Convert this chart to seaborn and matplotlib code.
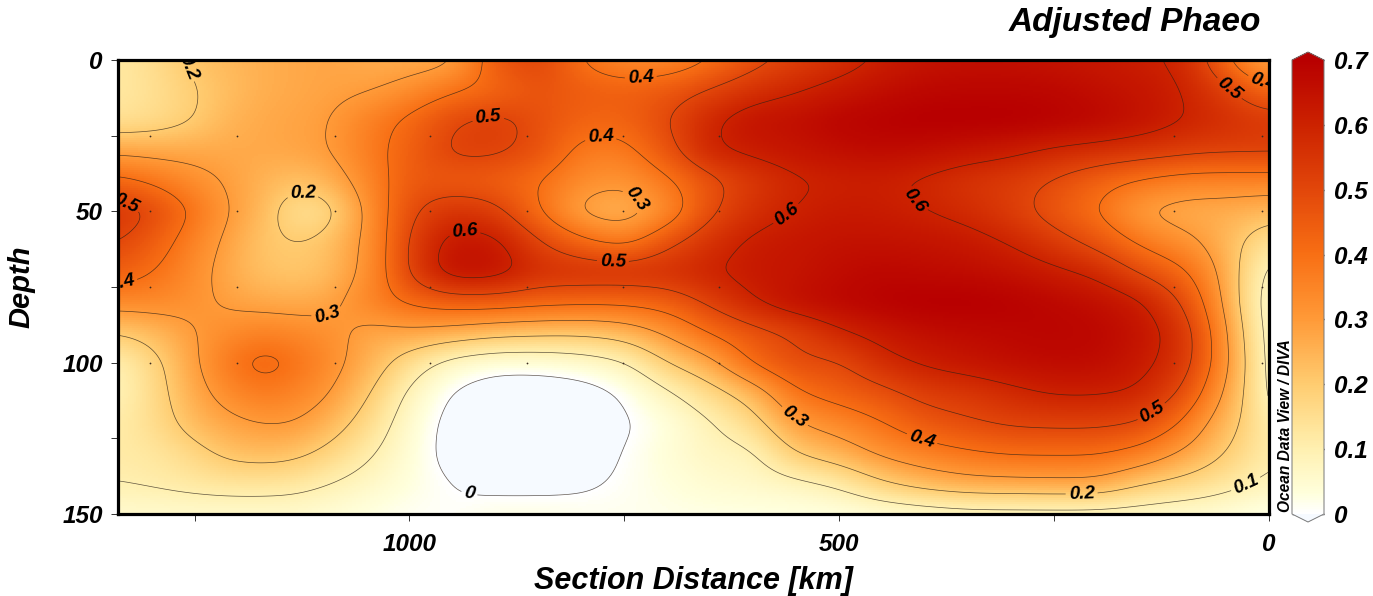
import numpy as np
import pandas as pd
import matplotlib
matplotlib.use("Agg")
import matplotlib.pyplot as plt
from matplotlib.colors import LinearSegmentedColormap
import seaborn as sns

# ---- data -----------------------------------------------------------------------
section_km = [1339,1293,1250,1210,1170,1135,1100,1040,1000,950,900,850,800,750,700,650,
              600,550,500,450,400,350,300,250,200,150,100,75,50,25,0]
depth_m = [0,10,20,30,40,50,60,70,80,90,100,110,120,130,140,150]
d000 = [.12,.16,.22,.24,.26,.27,.28,.26,.26,.27,.46,.52,.39,.33,.33,.39,.47,.52,.56,.61,.64,.65,.65,.64,.63,.61,.59,.50,.41,.31,.27]
d010 = [.12,.15,.195,.23,.26,.27,.28,.295,.33,.39,.42,.47,.45,.44,.46,.51,.56,.595,.63,.66,.68,.685,.685,.68,.66,.64,.605,.56,.53,.46,.42]
d020 = [.14,.16,.195,.25,.27,.28,.29,.37,.42,.50,.53,.48,.43,.43,.50,.59,.65,.66,.69,.70,.71,.71,.71,.70,.68,.65,.605,.585,.57,.55,.54]
d030 = [.28,.27,.27,.27,.27,.28,.29,.38,.44,.52,.52,.48,.37,.37,.47,.60,.62,.64,.66,.67,.66,.64,.62,.585,.57,.55,.53,.52,.52,.52,.52]
d040 = [.43,.38,.33,.29,.25,.22,.24,.36,.46,.45,.44,.40,.33,.31,.38,.47,.54,.59,.605,.61,.585,.55,.53,.49,.43,.385,.355,.35,.35,.35,.35]
d050 = [.56,.49,.39,.30,.24,.14,.14,.345,.49,.56,.53,.40,.27,.24,.33,.485,.565,.605,.625,.62,.60,.575,.53,.46,.395,.29,.26,.26,.26,.25,.24]
d060 = [.51,.44,.35,.28,.21,.20,.21,.335,.52,.64,.63,.51,.42,.36,.48,.56,.62,.635,.65,.65,.645,.63,.595,.535,.47,.38,.32,.295,.24,.19,.13]
d070 = [.45,.395,.33,.265,.22,.21,.22,.34,.52,.66,.65,.57,.57,.57,.57,.60,.63,.64,.665,.68,.67,.665,.65,.62,.585,.49,.42,.35,.27,.15,.06]
d080 = [.34,.34,.32,.285,.27,.265,.27,.36,.42,.45,.45,.43,.42,.42,.44,.52,.60,.66,.68,.70,.71,.71,.70,.68,.66,.62,.50,.40,.28,.14,.04]
d090 = [.20,.24,.30,.335,.36,.345,.33,.27,.28,.26,.23,.22,.215,.24,.315,.41,.47,.51,.59,.63,.66,.67,.68,.69,.68,.65,.56,.45,.31,.17,.04]
d100 = [.09,.18,.29,.385,.44,.40,.35,.24,.15,.06,.03,.03,.05,.085,.20,.27,.42,.49,.49,.575,.615,.64,.66,.67,.67,.63,.555,.45,.32,.19,.04]
d110 = [.08,.17,.27,.34,.38,.355,.32,.19,.08,-.01,-.05,-.05,-.04,.005,.085,.16,.24,.395,.44,.475,.53,.545,.58,.61,.61,.595,.495,.39,.28,.19,.05]
d120 = [.11,.16,.24,.28,.305,.305,.26,.145,.05,-.03,-.05,-.06,-.05,-.01,.03,.09,.16,.30,.34,.395,.46,.49,.515,.52,.52,.50,.395,.30,.24,.18,.09]
d130 = [.115,.13,.17,.225,.235,.225,.185,.10,.04,-.03,-.05,-.05,-.04,.005,.04,.075,.08,.205,.25,.32,.36,.39,.41,.41,.41,.37,.285,.245,.195,.155,.105]
d140 = [.10,.11,.125,.135,.135,.13,.105,.06,.03,.0,-.02,-.02,-.01,.01,.03,.05,.06,.075,.11,.19,.24,.27,.275,.28,.28,.205,.17,.15,.13,.105,.08]
d150 = [.05,.05,.05,.05,.05,.05,.04,.02,.01,.005,.03,.03,.02,.015,.02,.02,.02,.02,.02,.03,.04,.05,.05,.05,.05,.05,.04,.04,.03,.02,.01]
level_values = [0,.1,.2,.3,.4,.5,.6]
colorbar_ticks = [0,.1,.2,.3,.4,.5,.6,.7]
x_tick_km = [1000,500,0]
x_minor_km = [1250,750,250]
y_tick_m = [0,50,100,150]
y_minor_m = [25,75,125]
station_km = [1302,1200,1087,976,863,751,640,111,8]
station_depth = [25,50,75,100]
label_km = [1261,1328,1335,1124,1095,908,936,778,732,763,731,564,420,45,8,555,404,133,218,24,930]
label_depth = [2.6,45.6,73.3,45,85,20,56,22,45,64,5,50,48.5,9,8,119,125.5,118,143,142,142.7]
# ---------------------------------------------------------------------------------

sns.set_theme(style="white")
plt.rcParams.update({"font.family": ["Liberation Sans", "DejaVu Sans"],
                     "font.weight": "bold", "font.style": "italic",
                     "axes.labelweight": "bold"})

rows = [d000,d010,d020,d030,d040,d050,d060,d070,d080,d090,d100,d110,d120,d130,d140,d150]
field = np.array(rows, dtype=float)
km = np.array(section_km, dtype=float)
dep = np.array(depth_m, dtype=float)
XL = km[0]
NX, NY = 576, 227
fine_km = XL - (np.arange(NX) + .5) / NX * XL
fine_dep = (np.arange(NY) + .5) / NY * 150

tmp = np.array([np.interp(fine_km, km[::-1], r[::-1]) for r in field])
Z = np.array([np.interp(fine_dep, dep, c) for c in tmp.T]).T

def blur(a, sigma, axis):
    r = int(3 * sigma)
    k = np.exp(-.5 * (np.arange(-r, r + 1) / sigma) ** 2)
    k /= k.sum()
    pad = [(0, 0), (0, 0)]
    pad[axis] = (r, r)
    b = np.pad(a, pad, mode="edge")
    return np.apply_along_axis(lambda v: np.convolve(v, k, mode="valid"), axis, b)

Z = blur(blur(Z, 8, 1), 5, 0)

cmap = LinearSegmentedColormap.from_list("phaeo", [
    (0.0, "#ffffff"), (0.03/.7, "#ffffdc"), (0.1/.7, "#fff0b0"), (0.2/.7, "#ffcc70"),
    (0.3/.7, "#ff9a38"), (0.4/.7, "#f86f14"), (0.5/.7, "#e2470a"), (0.6/.7, "#cc2200"),
    (1.0, "#b80000")])
cmap.set_under("#f6faff")
cmap.set_over("#b80000")

W, H = 1373, 596
fig = plt.figure(figsize=(W / 100, H / 100), dpi=100)
ax = fig.add_axes([118 / W, 1 - 514 / H, (1269 - 118) / W, (514 - 60) / H])
cax = fig.add_axes([1292 / W, 1 - 522 / H, 32 / W, 470 / H])

df = pd.DataFrame(Z, index=fine_dep, columns=fine_km)
sns.heatmap(df, ax=ax, cmap=cmap, vmin=0, vmax=.7, cbar_ax=cax,
            xticklabels=False, yticklabels=False,
            cbar_kws={"extend": "both", "extendfrac": 8 / 454, "ticks": colorbar_ticks})

xc = lambda k: (XL - np.asarray(k, float)) / XL * NX
yc = lambda d: np.asarray(d, float) / 150 * NY
cx, cy = np.arange(NX) + .5, np.arange(NY) + .5

cs = ax.contour(cx, cy, Z, levels=level_values, colors="#2b2018", linewidths=.5, alpha=.75)
labs = ax.clabel(cs, levels=level_values, fmt=lambda v: f"{v:g}", fontsize=13.5, colors="black",
                 inline=True, inline_spacing=3,
                 manual=list(zip(xc(label_km), yc(label_depth))))
for t in cs.labelTexts:
    t.set_alpha(1); t.set_color("black")
    t.set_clip_on(True); t.set_clip_path(ax.patch); t.set_fontweight("bold"); t.set_fontstyle("italic")

sx, sy = np.meshgrid(xc(station_km), yc(station_depth))
ax.scatter(sx.ravel(), sy.ravel(), s=1.6, color="#3a2a20", linewidths=0, zorder=3)

for s in ax.spines.values():
    s.set_visible(True); s.set_linewidth(2.3); s.set_color("black")
ax.set_xticks(xc(x_tick_km)); ax.set_xticklabels([str(v) for v in x_tick_km], rotation=0)
ax.set_xticks(xc(x_minor_km), minor=True)
ax.set_yticks(yc(y_tick_m)); ax.set_yticklabels([str(v) for v in y_tick_m], rotation=0)
ax.set_yticks(yc(y_minor_m), minor=True)
ax.tick_params(axis="both", which="both", direction="out", length=5, width=.7, color="#333333",
               bottom=True, left=True, top=False, right=False)
ax.tick_params(axis="x", which="major", labelsize=17.5, pad=8.8, labelcolor="black")
ax.tick_params(axis="y", which="major", labelsize=17.5, pad=6, labelcolor="black")
ax.set_xlabel("Section Distance [km]", fontsize=22, labelpad=7, color="black", fontweight="bold", fontstyle="italic")
ax.set_ylabel("Depth", fontsize=21, labelpad=19, color="black", fontweight="bold", fontstyle="italic")

cb = ax.collections[0].colorbar
cb.outline.set_edgecolor("#777777"); cb.outline.set_linewidth(.7)
cax.tick_params(axis="y", which="both", direction="in", length=5, width=1, color="#222222",
                left=True, right=True, labelsize=17.5, pad=7, labelcolor="black")
cb.ax.set_yticklabels(["0","0.1","0.2","0.3","0.4","0.5","0.6","0.7"])

fig.text(1261 / W, 1 - 23 / H, "Adjusted Phaeo", ha="right", va="center", fontsize=24, color="black")
fig.text(1285 / W, 1 - 426 / H, "Ocean Data View / DIVA", rotation=90, ha="center", va="center",
         fontsize=11.2, color="black")
fig.savefig("out.png", dpi=100)
